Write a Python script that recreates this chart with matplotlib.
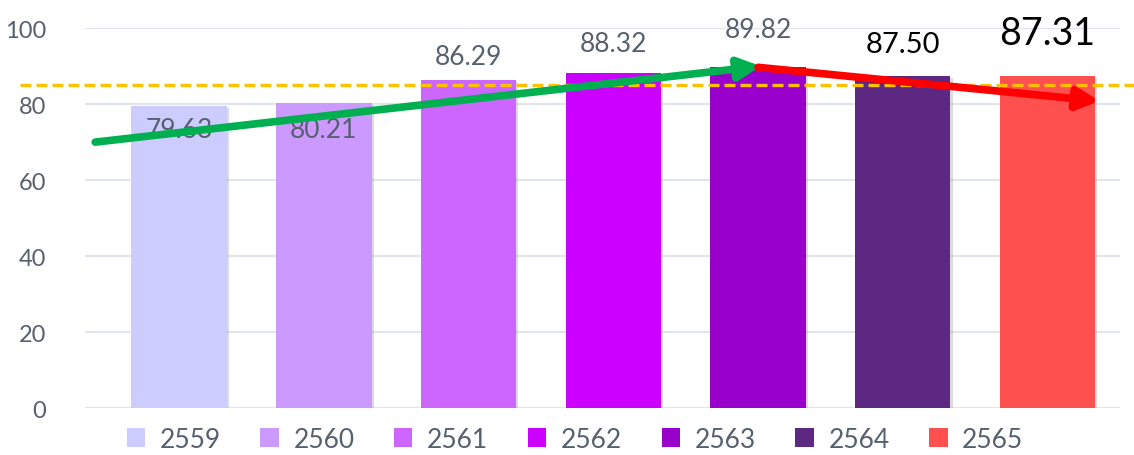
import matplotlib
matplotlib.use('Agg')
import matplotlib.pyplot as plt
import matplotlib.patheffects as pe
from matplotlib.patches import Patch
import numpy as np

plt.rcParams['font.family'] = ['Lato', 'DejaVu Sans']

years = ['2559', '2560', '2561', '2562', '2563', '2564', '2565']
values = [79.63, 80.21, 86.29, 88.32, 89.82, 87.50, 87.31]
colors = ['#CCCCFF', '#CC99FF', '#CC66FF', '#CC00FF', '#9900CC', '#5C2882', '#FF5050']
target = 85
# label offsets from the bar top (data units)
label_off = [-6.2, -6.8, 6.3, 7.7, 9.9, 8.3, 11.5]
label_col = ['#56606f'] * 5 + ['#000000', '#000000']
label_size = [19, 19, 19, 19, 19, 21, 27]

fig = plt.figure(figsize=(11.34, 4.56), dpi=100)
ax = fig.add_axes([0.075, 0.103, 0.9125, 0.833])

x = np.arange(len(years))
shadow = [pe.SimplePatchShadow(offset=(1.5, -1.5), shadow_rgbFace='#999999', alpha=0.35), pe.Normal()]
bars = ax.bar(x, values, width=0.66, color=colors, zorder=2)
for b in bars:
    b.set_path_effects(shadow)

for i, v in enumerate(values):
    ax.text(x[i], v + label_off[i], f'{v:.2f}', ha='center', va='center',
            fontsize=label_size[i], color=label_col[i],
            zorder=4, clip_on=False)

ax.plot([-1.1, 6.7], [target, target], color='#FFC000', lw=2.4,
        dashes=(3.3, 1.5), zorder=3, clip_on=False)

ax.annotate('', xy=(4.02, 90.0), xytext=(-0.58, 70.0),
            arrowprops=dict(arrowstyle='-|>', lw=5.5, color='#00B050',
                            mutation_scale=32, shrinkA=0, shrinkB=0),
            zorder=5, annotation_clip=False)
ax.annotate('', xy=(6.36, 80.8), xytext=(4.0, 89.7),
            arrowprops=dict(arrowstyle='-|>', lw=5.5, color='#FF0000',
                            mutation_scale=32, shrinkA=0, shrinkB=0),
            zorder=5, annotation_clip=False)

ax.set_xlim(-0.65, 6.5)
ax.set_ylim(0, 100)
ax.set_yticks([0, 20, 40, 60, 80, 100])
ax.set_xticks([])
ax.tick_params(axis='y', length=0, pad=28, labelsize=17, labelcolor='#56606f')
ax.grid(axis='y', color='#e2e6ec', lw=1.6, zorder=0)
ax.set_axisbelow(True)
for s in ax.spines.values():
    s.set_visible(False)

handles = [Patch(facecolor=c, edgecolor='none') for c in colors]
fig.legend(handles, years, loc='center', bbox_to_anchor=(0.507, 0.035),
           ncol=7, frameon=False, fontsize=19, labelcolor='#56606f',
           handlelength=0.7, handleheight=0.7, handletextpad=0.55,
           columnspacing=1.5, borderpad=0.1)

fig.savefig('out.png', dpi=100)
